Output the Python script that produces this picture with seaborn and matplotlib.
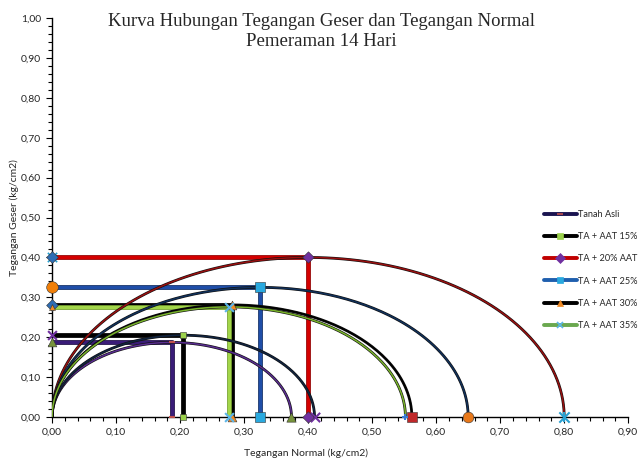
import numpy as np
import pandas as pd
import seaborn as sns
import matplotlib
matplotlib.use("Agg")
import matplotlib.pyplot as plt
import matplotlib.patheffects as pe
from matplotlib.lines import Line2D
from matplotlib.ticker import MultipleLocator, FuncFormatter

# ---- data -------------------------------------------------------------
samples = ["Tanah Asli", "TA + AAT 15%", "TA + 20% AAT",
           "TA + AAT 25%", "TA + AAT 30%", "TA + AAT 35%"]
# maximum shear stress = radius of each Mohr circle (kg/cm2)
tau_max = [0.187, 0.205, 0.400, 0.325, 0.281, 0.276]

x_ticks = [0.0, 0.1, 0.2, 0.3, 0.4, 0.5, 0.6, 0.7, 0.8, 0.9]
y_ticks = [0.0, 0.1, 0.2, 0.3, 0.4, 0.5, 0.6, 0.7, 0.8, 0.9, 1.0]

# ---- styles -----------------------------------------------------------
rect_color = ["#3a1c78", "#000000", "#d40000", "#1f4ea8", "#000000", "#a3d64a"]
rect_edge = ["#1a0d40", "#000000", "#8a0000", "#0f2a5c", "#000000", "#6f9a2a"]
circ_color = ["#5a2d91", "#10233f", "#9a0f0f", "#10305a", "#000000", "#7ab52b"]
leg_line = ["#1a1450", "#000000", "#c00000", "#1f5fae", "#000000", "#6aa84f"]
# marker on corner / foot of the stress path
mk = ["_", "s", "D", "s", "^", "x"]
mk_color = ["#c0504d", "#9bd14b", "#7030a0", "#29a9df", "#f08a24", "#5bb5e8"]
mk_size = [20, 14, 34, 60, 40, 40]
# marker on shear-stress axis
st_mk = ["^", "x", "D", "o", "D", "^"]
st_color = ["#77933c", "#7030a0", "#2e6db4", "#f07f09", "#2e6db4", "#f08a24"]
st_size = [40, 40, 36, 70, 36, 18]
# marker at the far end of each circle
en_mk = ["^", "x", "x", "o", "s", "+"]
en_color = ["#77933c", "#7030a0", "#29a0d0", "#e8781a", "#c0282a", "#3a7bd5"]
en_size = [45, 45, 55, 60, 55, 25]

sns.set_theme(style="white")
plt.rcParams["font.family"] = ["Lato", "DejaVu Sans"]

fig = plt.figure(figsize=(6.43, 4.59), dpi=100)
ax = fig.add_axes([0.081, 0.0915, 0.896, 0.869])

theta = np.linspace(0, np.pi, 200)

for i, name in enumerate(samples):
    r = tau_max[i]
    path = pd.DataFrame({"sigma": [0.0, r, r], "tau": [r, r, 0.0]})
    sns.lineplot(data=path, x="sigma", y="tau", sort=False, estimator=None,
                 color=rect_color[i], lw=2.4, ax=ax, zorder=2 + i * 0.1,
                 path_effects=[pe.Stroke(linewidth=3.4, foreground=rect_edge[i]),
                               pe.Normal()])

for i, name in enumerate(samples):
    r = tau_max[i]
    circ = pd.DataFrame({"sigma": r + r * np.cos(theta[::-1]),
                         "tau": r * np.sin(theta[::-1])})
    sns.lineplot(data=circ, x="sigma", y="tau", sort=False, estimator=None,
                 color=circ_color[i], lw=1.1, ax=ax, zorder=3 + i * 0.1,
                 path_effects=[pe.Stroke(linewidth=2.0, foreground="#101010"),
                               pe.Normal()])

for i, name in enumerate(samples):
    r = tau_max[i]
    kw = dict(ax=ax, legend=False, clip_on=False, zorder=6)
    lw_mk = 1.5 if mk[i] in ("x", "_") else 0.4
    sns.scatterplot(x=[r, r], y=[r, 0.0], marker=mk[i], s=mk_size[i],
                    color=mk_color[i], edgecolor=mk_color[i] if mk[i] in ("x", "_") else "#333333",
                    linewidth=lw_mk, **kw)
    lw_st = 1.5 if st_mk[i] in ("x", "+") else 0.4
    sns.scatterplot(x=[0.0], y=[r], marker=st_mk[i], s=st_size[i],
                    color=st_color[i], linewidth=lw_st,
                    edgecolor=st_color[i] if st_mk[i] in ("x", "+") else "#333333", **kw)
    lw_en = 1.5 if en_mk[i] in ("x", "+") else 0.4
    sns.scatterplot(x=[2 * r], y=[0.0], marker=en_mk[i], s=en_size[i],
                    color=en_color[i], linewidth=lw_en,
                    edgecolor=en_color[i] if en_mk[i] in ("x", "+") else "#333333", **kw)
    if en_mk[i] == "x" and i == 2:
        sns.scatterplot(x=[2 * r], y=[0.0], marker="|", s=en_size[i],
                        color=en_color[i], linewidth=1.5, **kw)

# extra asterisk on the shear axis at the top path
sns.scatterplot(x=[0.0], y=[tau_max[2]], marker="x", s=45, color="#29a0d0",
                linewidth=1.2, ax=ax, legend=False, clip_on=False, zorder=5)

ax.set_xlim(0, 0.9)
ax.set_ylim(0, 1.0)
ax.set_xticks(x_ticks)
ax.set_yticks(y_ticks)
ax.xaxis.set_minor_locator(MultipleLocator(0.02))
ax.yaxis.set_minor_locator(MultipleLocator(0.02))
fmt = FuncFormatter(lambda v, p: f"{v:.2f}".replace(".", ","))
ax.xaxis.set_major_formatter(fmt)
ax.yaxis.set_major_formatter(fmt)
ax.tick_params(which="both", direction="out", color="black", width=0.8,
               labelsize=7.5, bottom=True, left=True)
ax.tick_params(which="major", length=4, pad=4)
ax.tick_params(which="minor", length=3)
for s in ["top", "right"]:
    ax.spines[s].set_visible(False)
for s in ["left", "bottom"]:
    ax.spines[s].set_color("black")
    ax.spines[s].set_linewidth(1.0)
ax.grid(False)

ax.set_xlabel("Tegangan Normal (kg/cm2)", fontsize=7.5)
ax.set_ylabel("Tegangan Geser (kg/cm2)", fontsize=7.5)
ax.xaxis.set_label_coords(0.44, -0.078)
ax.yaxis.set_label_coords(-0.058, 0.5)

fig.text(0.5, 0.972, "Kurva Hubungan Tegangan Geser dan Tegangan Normal\nPemeraman 14 Hari",
         ha="center", va="top", fontsize=13.5, family="Liberation Serif",
         linespacing=1.25)

handles = []
for i, name in enumerate(samples):
    handles.append(Line2D([0], [0], color=leg_line[i], lw=2.8, marker=mk[i],
                          markersize=5 if mk[i] != "_" else 4,
                          markerfacecolor=mk_color[i], markeredgecolor=mk_color[i],
                          markeredgewidth=1.2 if mk[i] in ("x", "_") else 0.5))
fig.legend(handles, samples, loc="upper left", bbox_to_anchor=(0.846, 0.543),
           frameon=False, fontsize=6.6, handlelength=3.6, handletextpad=0.15,
           labelspacing=1.45, borderaxespad=0, borderpad=0)

fig.savefig("out.png", dpi=100)
